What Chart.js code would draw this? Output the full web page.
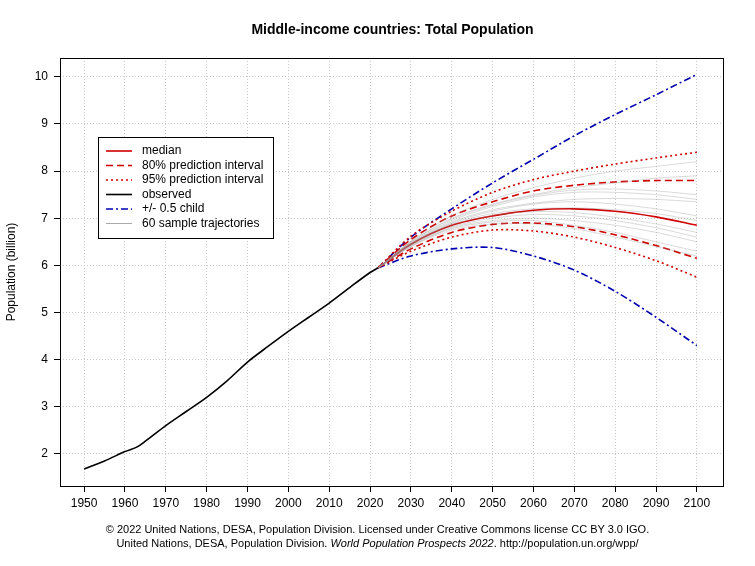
<!DOCTYPE html>
<html><head><meta charset="utf-8">
<script src="https://cdn.jsdelivr.net/npm/chart.js@4/dist/chart.umd.min.js"></script>
<style>
body{margin:0;background:#fff;font-family:"Liberation Sans",Arial,sans-serif}
#wrap{position:relative;width:755px;height:566px}
#c{position:absolute;left:0;top:0}
#title{position:absolute;top:21px;left:0;width:785px;text-align:center;font-weight:bold;font-size:14px}
.foot{position:absolute;left:0;width:755px;text-align:center;font-size:11px}
</style></head><body>
<div id="wrap">
<canvas id="c" width="755" height="566"></canvas>
<div id="title">Middle-income countries: Total Population</div>
<div class="foot" style="top:523px">© 2022 United Nations, DESA, Population Division. Licensed under Creative Commons license CC BY 3.0 IGO.</div>
<div class="foot" style="top:537px">United Nations, DESA, Population Division. <i>World Population Prospects 2022</i>. http://population.un.org/wpp/</div>
</div>
<script>
// observed
const obsYears = [1950,1955,1960,1963,1965,1970,1975,1980,1985,1990,1995,2000,2005,2010,2015,2020,2022];
const obsPop   = [1.68,1.85,2.05,2.15,2.27,2.60,2.90,3.20,3.55,3.95,4.28,4.60,4.90,5.20,5.53,5.85,5.95];
// projections
const projYears = [2022,2030,2040,2050,2060,2070,2080,2090,2100];
const median  = [5.95,6.45,6.85,7.05,7.17,7.20,7.15,7.03,6.85];
const pi80Up  = [5.95,6.55,7.05,7.35,7.58,7.70,7.77,7.80,7.80];
const pi80Lo  = [5.95,6.35,6.70,6.87,6.90,6.82,6.65,6.42,6.15];
const pi95Up  = [5.95,6.62,7.15,7.55,7.82,8.00,8.15,8.28,8.40];
const pi95Lo  = [5.95,6.30,6.60,6.75,6.73,6.60,6.38,6.10,5.75];
const halfUp  = [5.95,6.60,7.20,7.75,8.25,8.75,9.20,9.62,10.05];
const halfLo  = [5.95,6.20,6.35,6.38,6.20,5.90,5.45,4.90,4.30];
// a handful of sample trajectories (read by eye)
const trajectories = [
  [5.95,6.50,7.00,7.30,7.50,7.65,7.75,7.85,7.90],
  [5.95,6.40,6.80,6.95,7.00,6.95,6.85,6.70,6.50],
  [5.95,6.45,6.90,7.15,7.30,7.35,7.30,7.20,7.05],
  [5.95,6.42,6.78,6.92,6.95,6.85,6.70,6.50,6.30],
  [5.95,6.48,6.95,7.25,7.45,7.55,7.55,7.50,7.40],
  [5.95,6.43,6.82,7.00,7.08,7.05,6.95,6.80,6.60],
  [5.95,6.52,7.05,7.40,7.65,7.85,8.00,8.10,8.20],
  [5.95,6.46,6.88,7.10,7.20,7.22,7.18,7.10,6.95],
  [5.95,6.40,6.75,6.88,6.88,6.78,6.60,6.40,6.20],
  [5.95,6.47,6.92,7.18,7.32,7.40,7.42,7.40,7.35],
  [5.95,6.44,6.86,7.06,7.14,7.12,7.02,6.88,6.70],
  [5.95,6.50,6.98,7.28,7.48,7.60,7.62,7.58,7.50]
];
const xTicks = [1950,1960,1970,1980,1990,2000,2010,2020,2030,2040,2050,2060,2070,2080,2090,2100];
const yTicks = [2,3,4,5,6,7,8,9,10];

const pts = (xs, ys) => xs.map((x, i) => ({x: x, y: ys[i]}));
const line = (data, color, width, dash) => ({data: data, borderColor: color, borderWidth: width,
  borderDash: dash || [], pointRadius: 0, fill: false, tension: 0.3});

const datasets = [];
trajectories.forEach(t => datasets.push(line(pts(projYears, t), 'rgba(150,150,150,0.5)', 0.7)));
datasets.push(line(pts(obsYears, obsPop), '#000', 1.6));
datasets.push(line(pts(projYears, median), '#d00000', 1.6));
datasets.push(line(pts(projYears, pi80Up), '#d00000', 1.6, [7,4]));
datasets.push(line(pts(projYears, pi80Lo), '#d00000', 1.6, [7,4]));
datasets.push(line(pts(projYears, pi95Up), '#d00000', 1.6, [2,3]));
datasets.push(line(pts(projYears, pi95Lo), '#d00000', 1.6, [2,3]));
datasets.push(line(pts(projYears, halfUp), '#0000b0', 1.6, [7,3,2,3]));
datasets.push(line(pts(projYears, halfLo), '#0000b0', 1.6, [7,3,2,3]));

const legendItems = [
  ['median', '#d00000', []], ['80% prediction interval', '#d00000', [7,4]],
  ['95% prediction interval', '#d00000', [2,3]], ['observed', '#000', []],
  ['+/- 0.5 child', '#0000b0', [7,3,2,3]], ['60 sample trajectories', '#aaa', []]
];

const frame = {
  id: 'frame',
  afterDraw(chart) {
    const c = chart.ctx, a = chart.chartArea;
    c.save();
    c.strokeStyle = '#000'; c.lineWidth = 1;
    c.strokeRect(a.left + 0.5, a.top + 0.5, a.right - a.left, a.bottom - a.top);
    // legend box
    const lx = 98, ly = 137, lw = 175, lh = 101;
    c.fillStyle = '#fff'; c.fillRect(lx, ly, lw, lh);
    c.strokeRect(lx + 0.5, ly + 0.5, lw, lh);
    c.font = '12px "Liberation Sans", Arial'; c.textBaseline = 'middle';
    legendItems.forEach((it, i) => {
      const y = ly + 14 + i * 14.5;
      c.beginPath(); c.setLineDash(it[2]); c.strokeStyle = it[1];
      c.lineWidth = it[0].startsWith('60') ? 1 : 1.6;
      c.moveTo(lx + 8, y); c.lineTo(lx + 34, y); c.stroke();
      c.setLineDash([]); c.fillStyle = '#000'; c.fillText(it[0], lx + 44, y);
    });
    c.restore();
  }
};

new Chart(document.getElementById('c'), {
  type: 'line',
  data: {datasets: datasets},
  plugins: [frame],
  options: {
    responsive: false, animation: false,
    layout: {padding: {top: 58, right: 32, left: 0, bottom: 0}},
    plugins: {legend: {display: false}, tooltip: {enabled: false}},
    scales: {
      x: {type: 'linear', min: 1944.1, max: 2106.4,
        afterBuildTicks: s => { s.ticks = xTicks.map(v => ({value: v})); },
        afterFit: s => { s.height = 80; },
        grid: {color: '#c8c8c8', lineWidth: 1, tickColor: '#000', tickLength: 6},
        border: {display: false, dash: [1, 2]},
        ticks: {color: '#000', font: {size: 12, family: 'Liberation Sans'}, maxRotation: 0, autoSkip: false, padding: 4,
          callback: v => String(v)}
      },
      y: {type: 'linear', min: 1.32, max: 10.4,
        afterBuildTicks: s => { s.ticks = yTicks.map(v => ({value: v})); },
        afterFit: s => { s.width = 60; },
        grid: {color: '#c8c8c8', lineWidth: 1, tickColor: '#000', tickLength: 6},
        border: {display: false, dash: [1, 2]},
        title: {display: true, text: 'Population (billion)', color: '#000', font: {size: 12, family: 'Liberation Sans'}},
        ticks: {color: '#000', font: {size: 12, family: 'Liberation Sans'}, padding: 6, autoSkip: false,
          callback: v => String(v)}
      }
    }
  }
});
</script>
</body></html>
